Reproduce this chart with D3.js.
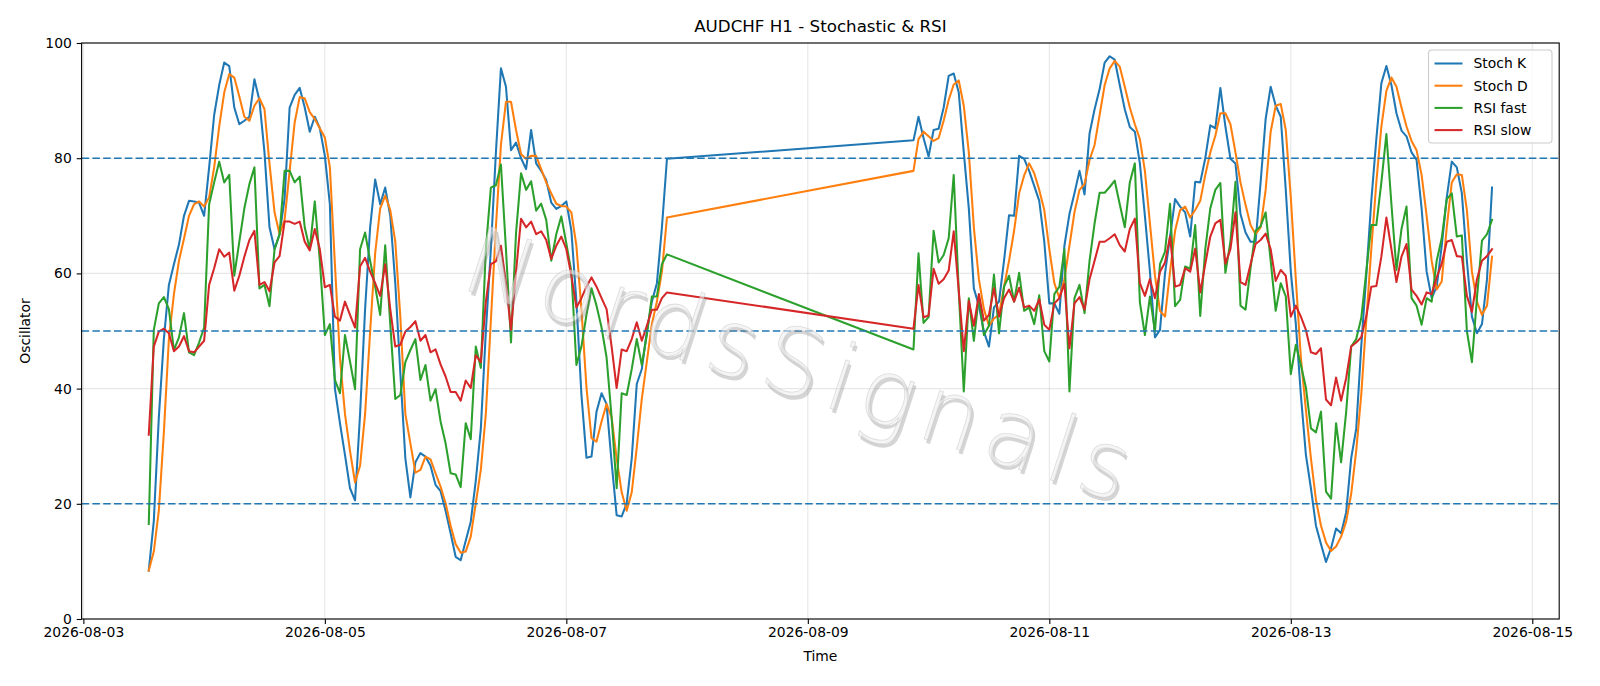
<!DOCTYPE html>
<html><head><meta charset="utf-8">
<script src="https://cdn.jsdelivr.net/npm/d3@7"></script>
<style>
html,body{margin:0;padding:0;background:#fff;}
svg{display:block;font-family:"DejaVu Sans",sans-serif;}
</style></head><body>
<svg id="chart" width="1600" height="686"></svg>
<script>
// ---- data ----
const segmentStarts = ["2026-08-03T13:00", "2026-08-09T21:00"];
const segmentLengths = [104, 116];
const seriesNames = ["Stoch K", "Stoch D", "RSI fast", "RSI slow"];
const seriesColors = ["#1f77b4", "#ff7f0e", "#2ca02c", "#d62728"];

const stochK = [
8.4,17,35,48.6,58,61.6,65,70,72.6,72.5,
72.3,70,78.4,87.5,92.7,96.6,96,88.8,85.9,86.5,
87.2,93.7,90,81,68,64.2,66.8,73,88.8,91,
92.2,88.8,84.6,87.2,85.2,80.4,72,40,34,28.5,
22.7,20.6,35.6,53.8,68,76.3,72,74.9,70,58.3,
42.8,27.9,21.1,27.2,28.8,28.2,26.6,23.3,22.2,18.8,
14.9,10.8,10.2,13.6,16.9,24,33,49.9,64.2,81,
95.6,92.4,81.4,82.7,80,78.1,84.9,79.1,77.8,76.2,
72.3,71.2,71.7,72.5,67.4,55.1,38.9,28,28.2,36,
39.2,37.3,27.2,18,17.8,20.1,27.9,40.8,43.4,49.9,
55.1,58.3,68,79.9,
83.1,87.2,83.5,80.3,84.9,85.1,88.8,94.3,94.7,91.4,
81,71.3,57.4,54.4,49.9,47.3,54.1,55.1,62.2,70.1,
70,80.4,79.9,77.8,75.2,72.6,65.5,54.8,54.8,53,
64.8,70.3,73.9,77.8,73.7,84.3,88.5,92,96.6,97.7,
97.1,92.7,88.5,85.4,84.6,79.1,70,60.3,48.9,50.2,
60,66.4,72.9,71.6,70.6,66.4,75.9,75.8,80,85.7,
85.2,92.2,85.5,79.9,79.1,70.3,67.1,65.5,65.5,75.8,
86.8,92.4,89.1,87.2,74.5,60.3,51.2,38.9,28.5,22.7,
16.2,13,9.9,12.3,15.7,14.9,18.5,27.9,33,47.3,
59.6,72.6,83.3,93,96,92.7,87.8,84.8,83.8,81,
79.7,71.3,60.3,55.7,57.7,64.8,73.2,79.4,78.4,73.9,
62.2,52.5,49.6,51.2,59,74.9
];
const stochD = [
8.4,11.7,18.8,32.4,48.6,56.4,62.2,66,70,72,
72.5,71.6,73.2,78.4,85.5,91.4,94.6,94,90.7,87.2,
86.5,89.1,90.4,88.5,79,70.6,66.8,69.3,77.8,86.2,
90.6,90.4,88,86.8,85.2,83.6,78.4,61.6,45.4,35.6,
29.2,23.7,26.6,35.6,49.9,63.5,71.3,73.5,71,65.5,
52.5,35.6,30.5,25.4,25.9,28.2,27.7,25.3,23,20.1,
16.2,13,11.5,11.7,14.3,20.1,25.9,35.6,51.8,68,
82.3,89.8,89.8,84.9,80.7,79.9,80.4,80.4,78.1,75.8,
73.9,72.1,71.7,71.6,70.6,64.8,53.8,40.2,31.4,30.8,
34.3,37.3,35,27.9,22,18.8,22,29.8,38.2,44.7,
51.2,55.1,60.3,69.7,
77.8,83.3,84.6,83.8,83,83.5,86.5,90.1,92.8,93.5,
89.1,81,68,59,53.8,50.9,52.2,52.8,57.7,62.2,
67.4,73.9,77,79.1,77.4,74.5,71,64.2,58.3,55.7,
59,64.8,70.6,74.5,75.5,79.7,82.3,87.5,92.7,95.6,
96.9,95.9,92.4,88.8,85.9,83.3,77.8,68.7,59.6,53.5,
52.5,60.3,67.4,71,71.6,69.7,71,72.6,77.1,81,
83.9,87.8,87.8,85.9,81,75.8,71.9,68.4,66.8,68,
74.5,84.6,89.1,89.4,84.9,73.2,59,45.4,36.3,27.9,
20.7,16.2,13.3,11.8,12.6,14.3,16.9,21.7,29.2,38.9,
51.8,64.2,75.8,85.5,91.7,94,92.4,88.8,85.5,83,
81.4,77.1,70,62.2,57.2,58.6,68,75.8,77.2,77.1,
71,60.3,55.1,52.8,54.4,62.9
];
const rsiFast = [
16.5,50.2,54.8,55.9,53.8,46.7,48.9,53.1,46.3,45.8,
48,50.6,72,75.8,79.4,75.8,77.1,59.6,65.5,71.3,
75.5,78.4,57.4,58,54.3,64.2,66.8,77.8,77.8,75.8,
76.8,68,64.2,72.5,62.2,49.3,51.2,41.5,39.2,49.3,
44.7,39.9,64.2,67.1,62.2,57.7,52.8,64.9,51.2,38.2,
38.9,44.6,46.7,48.6,41.5,44.1,37.9,39.9,34.3,30.5,
25.3,25.1,22.9,34,31.2,47.3,43.6,64.2,74.9,75.3,
78.9,64.2,48,67,77.4,74.5,76,70.9,72.1,69.3,
62.2,66.8,69.9,65.2,60.3,44.1,47.3,52.8,57.4,54.4,
50.6,45.4,35,22.7,39.2,38.9,43.4,48.6,44.1,49.3,
56,56,61.6,63.3,
46.8,63.5,51.4,52.4,67.4,61.9,63.2,66.1,77.1,57,
39.5,55.7,48.3,56,49.3,50.9,59.8,49.6,57.7,59.6,
55.1,60.1,53.5,54.1,51.2,56.2,46.5,44.7,56.4,57.7,
64.2,39.5,55.7,58,53.1,62.2,68.7,74,74,75,
76.1,72,68,75.8,79.1,55,49.3,56,49.9,61.6,
63.8,72.1,54.3,55.4,61.2,60.8,68.4,52.6,64.2,71.3,
74.5,75.7,60.1,65.5,75.9,54.4,53.7,60.9,67.4,68.2,
70.6,62.2,53.5,58.3,56,42.5,47.6,44.1,40.2,33.1,
32.4,36,22.1,20.9,34,27.2,35.9,47.3,48.6,52.2,
60.3,68.4,68.4,75.8,84.2,72,60.6,67.7,71.6,55.7,
54.4,51.1,55.7,55.1,62.2,66.1,72.9,73.9,66.4,66.6,
50,44.6,55.7,65.7,66.8,69.3
];
const rsiSlow = [
32,47.3,49.9,50.4,49.6,46.5,47.3,49.1,46.5,46.3,
47.3,48.3,58,60.9,64.2,62.9,63.6,57,59.6,62.9,
65.8,67.4,58,58.5,56.9,61.9,63,69,69,68.6,
69,65.5,64,67.7,64.2,57.6,58,52.5,51.8,55.1,
52.8,50.6,61.2,62.7,60.3,58.3,56.1,61.6,53.8,47.3,
47.6,49.9,50.7,51.7,48.3,49.3,46.3,46.8,44.2,42.1,
39.4,39.4,37.9,41.4,40.1,45.8,44.6,55.1,61.6,62.1,
64.8,58.3,50.2,60.3,69.5,68,69,66.8,67.3,65.8,
62.5,64.8,66.4,64.2,59.6,54.1,55.7,57.7,59.3,57.7,
55.7,53.8,47.3,40.1,46.8,46.5,48.6,51.5,48.3,50.9,
53.7,53.7,55.7,56.7,
50.4,58,52.4,52.7,60.8,58.2,59,60.5,67.3,57,
46.5,55.2,50.9,56.4,51.8,52.8,57.4,52.5,55.7,57.2,
55.1,57.5,54.1,54.4,53.5,55.5,51.1,50.2,54.8,55.7,
58.2,47,54.8,55.9,53.7,59,62.2,65.5,65.5,66.1,
66.8,64.9,63.8,67.7,69.5,58.3,56.1,59,55.7,60.3,
61.9,66.4,57.7,58,60.9,60.3,64.3,56.7,61.6,66.4,
68.7,69.3,61.7,64.2,70.6,58.5,58,61.6,65.1,65.8,
66.9,64.2,58.7,60.6,59.6,52.5,54.4,52.5,50.2,46.3,
46,47,38.1,37.1,41.9,37.9,41.8,47.3,48,48.9,
52.5,57.7,57.8,62.9,69.7,64.2,58.5,62.9,65.1,57.2,
56.1,54.6,56.7,56.4,59.3,61.7,65.5,65.8,63,62.9,
56.1,53.3,59,62.2,63,64.2
];
const xTickLabels = ["2026-08-03","2026-08-05","2026-08-07","2026-08-09","2026-08-11","2026-08-13","2026-08-15"];
const yTickValues = [0, 20, 40, 60, 80, 100];
const refLevels = [80, 50, 20];
const titleText = "AUDCHF H1 - Stochastic & RSI";
const xLabelText = "Time";
const yLabelText = "Oscillator";
const watermarkText = "NordsSignals";

// ---- build ----
const parseT = d3.utcParse("%Y-%m-%dT%H:%M");
const parseD = d3.utcParse("%Y-%m-%d");
const times = [];
segmentStarts.forEach((s, k) => {
  const t0 = parseT(s);
  for (let h = 0; h < segmentLengths[k]; h++) times.push(d3.utcHour.offset(t0, h));
});
const allSeries = [stochK, stochD, rsiFast, rsiSlow];

const L = 81.6, R = 1559.2, T = 43, B = 619;
const [tmin, tmax] = d3.extent(times);
const pad = (tmax - tmin) * 0.05;
const x = d3.scaleUtc().domain([new Date(+tmin - pad), new Date(+tmax + pad)]).range([L, R]);
const y = d3.scaleLinear().domain([0, 100]).range([B, T]);

const svg = d3.select("#chart");
svg.append("rect").attr("width", 1600).attr("height", 686).attr("fill", "#fff");

const tickDates = xTickLabels.map(parseD);

// grid
const grid = svg.append("g");
grid.selectAll("line.gx").data(tickDates).enter().append("line")
  .attr("x1", d => x(d)).attr("x2", d => x(d)).attr("y1", T).attr("y2", B)
  .attr("stroke", "#b0b0b0").attr("stroke-opacity", 0.3).attr("stroke-width", 1.1);
grid.selectAll("line.gy").data(yTickValues).enter().append("line")
  .attr("x1", L).attr("x2", R).attr("y1", d => y(d)).attr("y2", d => y(d))
  .attr("stroke", "#b0b0b0").attr("stroke-opacity", 0.3).attr("stroke-width", 1.1);

// series
const line = d3.line().x((d, i) => x(times[i])).y(d => y(d));
allSeries.forEach((s, k) => {
  svg.append("path").datum(s).attr("d", line)
    .attr("fill", "none").attr("stroke", seriesColors[k]).attr("stroke-width", 2.05)
    .attr("stroke-linejoin", "round").attr("stroke-linecap", "square");
});

// reference levels
svg.selectAll("line.lvl").data(refLevels).enter().append("line")
  .attr("x1", L).attr("x2", R).attr("y1", d => y(d)).attr("y2", d => y(d))
  .attr("stroke", "#1f77b4").attr("stroke-width", 1.4).attr("stroke-dasharray", "7.5,3.3");

// watermark
const wm = svg.append("g").attr("transform", "translate(799,364) rotate(18)");
const wmAttrs = sel => sel.attr("text-anchor", "middle").attr("dy", "0.35em")
  .attr("font-size", 93).attr("font-weight", 200).attr("letter-spacing", 8.5);
wm.append("text").text(watermarkText).attr("x", 7).attr("y", 3).call(wmAttrs)
  .attr("fill", "#808080").attr("fill-opacity", 0.33);
wm.append("text").text(watermarkText).attr("x", 4).call(wmAttrs)
  .attr("fill", "#ececec").attr("fill-opacity", 0.55)
  .attr("stroke", "#bbbbbb").attr("stroke-opacity", 0.45).attr("stroke-width", 0.8);

// axes
const xAxis = d3.axisBottom(x).tickValues(tickDates).tickFormat(d3.utcFormat("%Y-%m-%d"))
  .tickSize(4.9).tickPadding(3.5).tickSizeOuter(0);
const gx = svg.append("g").attr("transform", `translate(0,${B})`).call(xAxis);
gx.select(".domain").remove();
gx.selectAll("line").attr("stroke", "#000").attr("stroke-width", 1.1);
gx.selectAll("text").attr("font-size", 13.9).attr("fill", "#000").attr("font-family", '"DejaVu Sans",sans-serif');

const yAxis = d3.axisLeft(y).tickValues(yTickValues).tickFormat(d3.format("d"))
  .tickSize(4.9).tickPadding(4.9).tickSizeOuter(0);
const gy = svg.append("g").attr("transform", `translate(${L},0)`).call(yAxis);
gy.select(".domain").remove();
gy.selectAll("line").attr("stroke", "#000").attr("stroke-width", 1.1);
gy.selectAll("text").attr("font-size", 13.9).attr("fill", "#000").attr("font-family", '"DejaVu Sans",sans-serif');

// spines
svg.append("rect").attr("x", L).attr("y", T).attr("width", R - L).attr("height", B - T)
  .attr("fill", "none").attr("stroke", "#000").attr("stroke-width", 1.1);

// labels
svg.append("text").text(titleText).attr("x", (L + R) / 2).attr("y", 32)
  .attr("text-anchor", "middle").attr("font-size", 16.7);
svg.append("text").text(xLabelText).attr("x", (L + R) / 2).attr("y", 661)
  .attr("text-anchor", "middle").attr("font-size", 13.9);
svg.append("text").text(yLabelText).attr("transform", `translate(30,${(T + B) / 2}) rotate(-90)`)
  .attr("text-anchor", "middle").attr("font-size", 13.9);

// legend
const lg = svg.append("g");
lg.append("rect").attr("x", 1428.5).attr("y", 50).attr("width", 123.5).attr("height", 93)
  .attr("rx", 3.5).attr("fill", "#fff").attr("fill-opacity", 0.8)
  .attr("stroke", "#cccccc").attr("stroke-width", 1.1);
seriesNames.forEach((n, k) => {
  const yy = 63.5 + k * 22.2;
  lg.append("line").attr("x1", 1434.5).attr("x2", 1462.5).attr("y1", yy).attr("y2", yy)
    .attr("stroke", seriesColors[k]).attr("stroke-width", 2.05);
  lg.append("text").text(n).attr("x", 1473.5).attr("y", yy).attr("dy", "0.35em")
    .attr("font-size", 13.9);
});
</script>
</body></html>
